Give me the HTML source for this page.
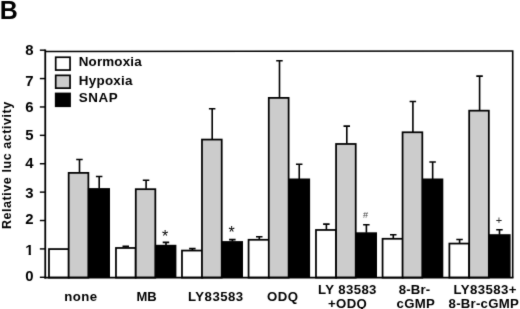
<!DOCTYPE html>
<html lang="en"><head><meta charset="utf-8"><title>Figure B - Relative luc activity</title>
<style>html,body{margin:0;padding:0;background:#fff}body{width:520px;height:309px;overflow:hidden}svg{display:block}text{font-family:"Liberation Sans",Arial,Helvetica,sans-serif;font-weight:bold;fill:#000}</style></head><body>
<svg width="520" height="309" viewBox="0 0 520 309">
<defs><filter id="soft" x="-10" y="-10" width="540" height="329" filterUnits="userSpaceOnUse" color-interpolation-filters="sRGB"><feConvolveMatrix order="3" kernelMatrix="0.015 0.075 0.015 0.075 0.64 0.075 0.015 0.075 0.015" edgeMode="duplicate" preserveAlpha="true"/></filter></defs>
<g filter="url(#soft)">
<rect x="-10" y="-10" width="540" height="329" fill="#fff"/>
<rect x="48.98" y="249.07" width="19.75" height="28.53" fill="#fff" stroke="#000" stroke-width="1.75"/>
<rect x="68.67" y="172.88" width="19.70" height="104.73" fill="#cccccc" stroke="#000" stroke-width="1.75"/>
<rect x="87.90" y="188.10" width="22.10" height="89.50" fill="#000"/>
<path d="M79.50 172.50V159.50M76.20 159.50H82.70" stroke="#000" stroke-width="1.6" fill="none"/>
<path d="M99.20 188.60V176.50M95.90 176.50H102.40" stroke="#000" stroke-width="1.6" fill="none"/>
<rect x="115.97" y="247.97" width="19.65" height="29.63" fill="#fff" stroke="#000" stroke-width="1.75"/>
<rect x="135.78" y="189.18" width="19.55" height="88.43" fill="#cccccc" stroke="#000" stroke-width="1.75"/>
<rect x="154.90" y="244.80" width="21.50" height="32.80" fill="#000"/>
<path d="M125.80 247.60V246.40M122.50 246.40H129.00" stroke="#000" stroke-width="1.6" fill="none"/>
<path d="M146.10 188.80V180.30M142.80 180.30H149.30" stroke="#000" stroke-width="1.6" fill="none"/>
<path d="M166.00 245.30V242.40M162.70 242.40H169.20" stroke="#000" stroke-width="1.6" fill="none"/>
<rect x="181.97" y="250.57" width="20.45" height="27.03" fill="#fff" stroke="#000" stroke-width="1.75"/>
<rect x="201.97" y="139.57" width="19.75" height="138.03" fill="#cccccc" stroke="#000" stroke-width="1.75"/>
<rect x="221.20" y="241.10" width="21.80" height="36.50" fill="#000"/>
<path d="M192.40 250.20V248.60M189.10 248.60H195.60" stroke="#000" stroke-width="1.6" fill="none"/>
<path d="M212.20 139.20V108.80M208.90 108.80H215.40" stroke="#000" stroke-width="1.6" fill="none"/>
<path d="M232.40 241.60V239.60M229.10 239.60H235.60" stroke="#000" stroke-width="1.6" fill="none"/>
<rect x="248.57" y="239.78" width="20.45" height="37.83" fill="#fff" stroke="#000" stroke-width="1.75"/>
<rect x="268.77" y="97.88" width="19.85" height="179.73" fill="#cccccc" stroke="#000" stroke-width="1.75"/>
<rect x="288.20" y="178.50" width="21.90" height="99.10" fill="#000"/>
<path d="M259.30 239.40V236.80M256.00 236.80H262.50" stroke="#000" stroke-width="1.6" fill="none"/>
<path d="M279.50 97.50V60.70M276.20 60.70H282.70" stroke="#000" stroke-width="1.6" fill="none"/>
<path d="M299.25 179.00V164.30M295.95 164.30H302.45" stroke="#000" stroke-width="1.6" fill="none"/>
<rect x="315.98" y="229.97" width="20.15" height="47.63" fill="#fff" stroke="#000" stroke-width="1.75"/>
<rect x="336.07" y="143.97" width="19.65" height="133.63" fill="#cccccc" stroke="#000" stroke-width="1.75"/>
<rect x="355.90" y="232.30" width="21.10" height="45.30" fill="#000"/>
<path d="M326.40 229.60V224.10M323.10 224.10H329.60" stroke="#000" stroke-width="1.6" fill="none"/>
<path d="M346.80 143.60V126.10M343.50 126.10H350.00" stroke="#000" stroke-width="1.6" fill="none"/>
<path d="M366.40 232.80V224.70M363.10 224.70H369.60" stroke="#000" stroke-width="1.6" fill="none"/>
<rect x="382.57" y="238.78" width="20.25" height="38.83" fill="#fff" stroke="#000" stroke-width="1.75"/>
<rect x="402.57" y="132.28" width="19.75" height="145.33" fill="#cccccc" stroke="#000" stroke-width="1.75"/>
<rect x="421.90" y="178.50" width="21.40" height="99.10" fill="#000"/>
<path d="M393.30 238.40V234.80M390.00 234.80H396.50" stroke="#000" stroke-width="1.6" fill="none"/>
<path d="M412.90 131.90V101.50M409.60 101.50H416.10" stroke="#000" stroke-width="1.6" fill="none"/>
<path d="M432.65 179.00V162.00M429.35 162.00H435.85" stroke="#000" stroke-width="1.6" fill="none"/>
<rect x="449.38" y="243.57" width="19.75" height="34.03" fill="#fff" stroke="#000" stroke-width="1.75"/>
<rect x="469.18" y="110.67" width="19.65" height="166.93" fill="#cccccc" stroke="#000" stroke-width="1.75"/>
<rect x="488.90" y="234.20" width="21.70" height="43.40" fill="#000"/>
<path d="M459.60 243.20V239.50M456.30 239.50H462.80" stroke="#000" stroke-width="1.6" fill="none"/>
<path d="M479.60 110.30V76.10M476.30 76.10H482.80" stroke="#000" stroke-width="1.6" fill="none"/>
<path d="M499.50 234.70V229.80M496.20 229.80H502.70" stroke="#000" stroke-width="1.6" fill="none"/>
<path d="M45.25 49.5V278.50" stroke="#000" stroke-width="1.8" fill="none"/>
<path d="M44.35 277.6H513.50" stroke="#000" stroke-width="1.9" fill="none"/>
<path d="M45.85 51.55L512.7 50.95V277.6" stroke="#000" stroke-width="1.6" fill="none" stroke-linejoin="miter"/>
<path d="M39.85 277.30H45.25" stroke="#000" stroke-width="1.45"/>
<text transform="translate(33.6 281.45) scale(1.08 1)" font-size="13.8" text-anchor="end">0</text>
<path d="M39.85 248.91H45.25" stroke="#000" stroke-width="1.45"/>
<clipPath id="one"><rect x="20" y="240" width="16" height="12.95"/><rect x="28.6" y="252.9" width="2.3" height="3.1"/></clipPath>
<g clip-path="url(#one)"><text transform="translate(33.6 254.60) scale(1.08 1)" font-size="13.8" text-anchor="end">1</text></g>
<path d="M39.85 220.52H45.25" stroke="#000" stroke-width="1.45"/>
<text transform="translate(33.6 224.30) scale(1.08 1)" font-size="13.8" text-anchor="end">2</text>
<path d="M39.85 192.13H45.25" stroke="#000" stroke-width="1.45"/>
<text transform="translate(33.6 197.75) scale(1.08 1)" font-size="13.8" text-anchor="end">3</text>
<path d="M39.85 163.74H45.25" stroke="#000" stroke-width="1.45"/>
<text transform="translate(33.6 168.10) scale(1.08 1)" font-size="13.8" text-anchor="end">4</text>
<path d="M39.85 135.35H45.25" stroke="#000" stroke-width="1.45"/>
<text transform="translate(33.6 140.25) scale(1.08 1)" font-size="13.8" text-anchor="end">5</text>
<path d="M39.85 106.96H45.25" stroke="#000" stroke-width="1.45"/>
<text transform="translate(33.6 112.40) scale(1.08 1)" font-size="13.8" text-anchor="end">6</text>
<path d="M39.85 78.57H45.25" stroke="#000" stroke-width="1.45"/>
<text transform="translate(33.6 85.70) scale(1.08 1)" font-size="13.8" text-anchor="end">7</text>
<path d="M39.85 50.18H45.25" stroke="#000" stroke-width="1.45"/>
<text transform="translate(33.6 55.25) scale(1.08 1)" font-size="13.8" text-anchor="end">8</text>
<text transform="translate(10.75 229.05) rotate(-90)" font-size="12.5" letter-spacing="0.56">Relative luc activity</text>
<text x="-0.3" y="18.9" font-size="25">B</text>
<rect x="55.70" y="57.25" width="14.35" height="12.8" fill="#fff" stroke="#000" stroke-width="1.7"/>
<text x="78.8" y="66.10" font-size="13.4" letter-spacing="0.15">Normoxia</text>
<rect x="55.70" y="75.35" width="14.35" height="12.8" fill="#cccccc" stroke="#000" stroke-width="1.7"/>
<text x="78.8" y="84.75" font-size="13.4" letter-spacing="0.27">Hypoxia</text>
<rect x="55.70" y="93.45" width="14.35" height="12.8" fill="#000" stroke="#000" stroke-width="1.7"/>
<text x="78.8" y="101.50" font-size="13.4" letter-spacing="0.55">SNAP</text>
<text x="81" y="301.1" font-size="13.2" letter-spacing="0.45" text-anchor="middle">none</text>
<text x="146.6" y="301.1" font-size="13.0" letter-spacing="0.0" text-anchor="middle">MB</text>
<text x="215.8" y="301.1" font-size="13.2" letter-spacing="0.45" text-anchor="middle">LY83583</text>
<text x="282.8" y="301.1" font-size="13.2" letter-spacing="0.45" text-anchor="middle">ODQ</text>
<text x="347.4" y="293.95" font-size="13.2" letter-spacing="0.4" text-anchor="middle">LY 83583</text>
<text x="347.6" y="307.65" font-size="13.2" letter-spacing="0.3" text-anchor="middle">+ODQ</text>
<text x="414.6" y="293.95" font-size="13.2" letter-spacing="0.15" text-anchor="middle">8-Br-</text>
<text x="415.8" y="307.65" font-size="13.2" letter-spacing="0.3" text-anchor="middle">cGMP</text>
<text x="485.2" y="293.95" font-size="13.2" letter-spacing="0.45" text-anchor="middle">LY83583+</text>
<text x="483.8" y="307.65" font-size="13.2" letter-spacing="0.25" text-anchor="middle">8-Br-cGMP</text>
<text x="165" y="242" font-size="16" text-anchor="middle" style="font-weight:normal">*</text>
<text x="231.6" y="238.2" font-size="16" text-anchor="middle" style="font-weight:normal">*</text>
<text x="365.6" y="217.5" font-size="9.2" text-anchor="middle" style="font-weight:normal;fill:#444">#</text>
<text x="498.9" y="224" font-size="11" text-anchor="middle" style="font-weight:normal;fill:#222">+</text>
</g></svg></body></html>
